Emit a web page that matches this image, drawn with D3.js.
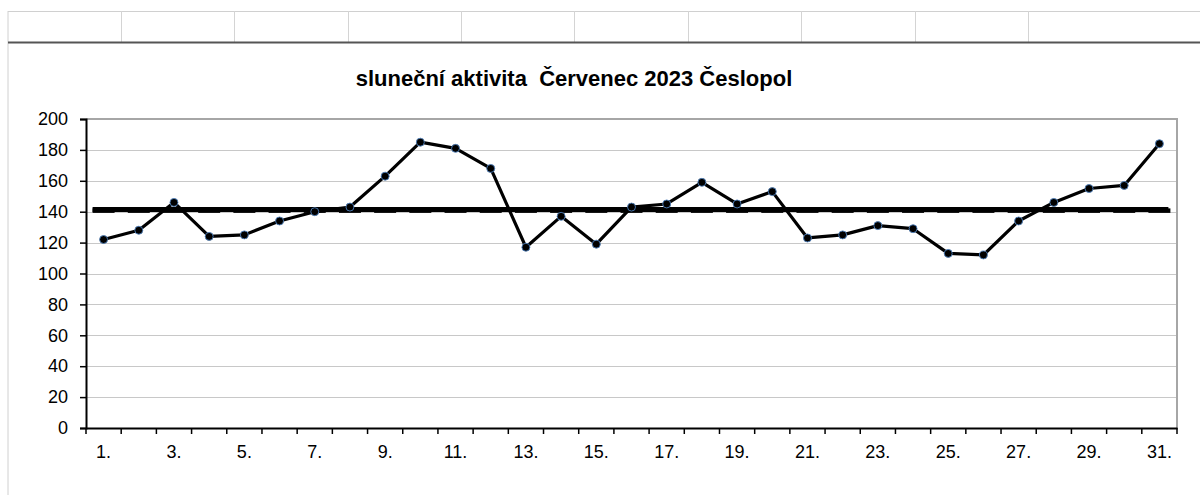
<!DOCTYPE html>
<html><head><meta charset="utf-8">
<script src="https://cdn.jsdelivr.net/npm/d3@7"></script>
<style>body{margin:0;background:#fff;} svg{display:block;font-family:Arial,"Liberation Sans",sans-serif;}</style>
</head><body>
<svg id="c" width="1200" height="495"></svg>
<script>
const days = d3.range(1, 32).map(d => d + ".");
const activity = [122,128,146,124,125,134,140,143,163,185,181,168,117,137,119,143,145,159,145,153,123,125,131,129,113,112,134,146,155,157,184];
const average = [141.5];
const yTicks = [0,20,40,60,80,100,120,140,160,180,200];
const sheetCols = [121,234,348,461,574,688,801,915,1028];
const title = "sluneční aktivita  Červenec 2023 Česlopol";

const svg = d3.select("#c");
const FONT = "Arial,'Liberation Sans',sans-serif";
// spreadsheet residue on top
svg.append("line").attr("x1",8).attr("x2",1200).attr("y1",11.5).attr("y2",11.5).attr("stroke","#d0d0d0");
svg.selectAll(".col").data(sheetCols).enter().append("line")
  .attr("x1",d=>d+0.5).attr("x2",d=>d+0.5).attr("y1",11).attr("y2",42).attr("stroke","#d4d4d4");
svg.append("line").attr("x1",8).attr("x2",8).attr("y1",11).attr("y2",495).attr("stroke","#d0d0d0");
svg.append("line").attr("x1",8).attr("x2",1200).attr("y1",42.5).attr("y2",42.5).attr("stroke","#555").attr("stroke-width",2);

const L = 86, R = 1177, T = 119, B = 428;
const x = d3.scaleBand().domain(days).range([L, R]);
const y = d3.scaleLinear().domain([0, 200]).range([B, T]);
const cx = d => x(d) + x.bandwidth()/2;

// title
svg.append("text").attr("x",574).attr("y",86).attr("text-anchor","middle")
  .attr("xml:space","preserve").style("white-space","pre")
  .attr("font-weight","bold").attr("font-size",22).attr("fill","#000").text(title);

// gridlines
svg.selectAll(".grid").data(yTicks.filter(t=>t>0 && t<200)).enter().append("line")
  .attr("x1",L).attr("x2",R).attr("y1",d=>Math.round(y(d))+0.5).attr("y2",d=>Math.round(y(d))+0.5)
  .attr("stroke","#c8c8c8");
// top and right frame
svg.append("line").attr("x1",L).attr("x2",R+1).attr("y1",T).attr("y2",T).attr("stroke","#a6a6a6").attr("stroke-width",2);
svg.append("line").attr("x1",R).attr("x2",R).attr("y1",T).attr("y2",B).attr("stroke","#a6a6a6").attr("stroke-width",2);

// y axis
const ya = svg.append("g").attr("transform",`translate(${L},0)`)
  .call(d3.axisLeft(y).tickValues(yTicks).tickSize(6).tickPadding(12).tickFormat(d3.format("d")));
ya.select(".domain").attr("stroke","#000").attr("stroke-width",2);
ya.selectAll(".tick line").attr("stroke","#000").attr("stroke-width",1.5);
ya.selectAll("text").attr("font-size",18).attr("fill","#000").attr("font-family",FONT);

// x axis
const xa = svg.append("g").attr("transform",`translate(0,${B})`)
  .call(d3.axisBottom(x).tickSize(0).tickPadding(17).tickFormat((d,i)=> i%2===0 ? d : ""));
xa.select(".domain").attr("stroke","#000").attr("stroke-width",2);
xa.selectAll("text").attr("font-size",18).attr("fill","#000").attr("font-family",FONT);
// band boundary ticks
const bounds = days.map(d => x(d)).concat([R]);
svg.selectAll(".xt").data(bounds).enter().append("line")
  .attr("x1",d=>d).attr("x2",d=>d).attr("y1",B).attr("y2",B+6).attr("stroke","#000").attr("stroke-width",1.5);

// average line with dash markers
const avgY = y(average[0]);
svg.append("line").attr("x1",cx(days[0])-11).attr("x2",cx(days[30])+9)
  .attr("y1",avgY).attr("y2",avgY).attr("stroke","#000").attr("stroke-width",5);
svg.selectAll(".dash").data(days).enter().append("rect")
  .attr("x",d=>cx(d)-11).attr("y",avgY-1).attr("width",22).attr("height",4.5).attr("fill","#000");

// series line
svg.append("path").datum(activity)
  .attr("d", d3.line().x((d,i)=>cx(days[i])).y(d=>y(d)))
  .attr("fill","none").attr("stroke","#000").attr("stroke-width",3.2).attr("stroke-linejoin","round");
svg.selectAll(".pt").data(activity).enter().append("circle")
  .attr("cx",(d,i)=>cx(days[i])).attr("cy",d=>y(d)).attr("r",4)
  .attr("fill","#000").attr("stroke","#4f81bd").attr("stroke-width",0.9);
</script>
</body></html>
